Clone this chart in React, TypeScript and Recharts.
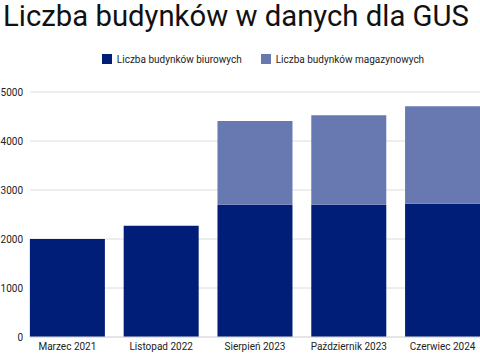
import { Bar, BarChart, CartesianGrid, Legend, XAxis, YAxis } from 'recharts'

const periods = ['Marzec 2021', 'Listopad 2022', 'Sierpień 2023', 'Październik 2023', 'Czerwiec 2024']
const offices = [2000, 2270, 2700, 2700, 2720]
const warehouses = [null, null, 1710, 1825, 1990]
const yTicks = [0, 1000, 2000, 3000, 4000, 5000]

const DARK = '#001e77'
const LIGHT = '#6878b0'
const FONT = 'Roboto, "Noto Sans", sans-serif'
const LEGEND_H = 16

const data = periods.map((name, i) => ({ name, offices: offices[i], warehouses: warehouses[i] }))

// własna legenda — odstępy jak w oryginale (kwadrat 10px, ~19px między pozycjami)
function LegendRow({ payload }: { payload?: { value: string; color: string }[] }) {
  return (
    <div style={{ display: 'flex', justifyContent: 'center', height: LEGEND_H, alignItems: 'center', gap: 19, paddingLeft: 46 }}>
      {(payload ?? []).map((p) => (
        <div key={p.value} style={{ display: 'flex', alignItems: 'center', gap: 5 }}>
          <span style={{ width: 10, height: 10, background: p.color, display: 'inline-block' }} />
          <span style={{ fontSize: 10, color: '#222', fontFamily: FONT }}>{p.value}</span>
        </div>
      ))}
    </div>
  )
}

export default function App() {
  return (
    <div style={{ position: 'absolute', left: 0, top: 0, width: 480, height: 354, background: '#fff', fontFamily: FONT }}>
      <div style={{ position: 'absolute', left: 3, top: 0, fontSize: 29.3, lineHeight: '32px', color: '#111', whiteSpace: 'nowrap' }}>
        Liczba budynków w danych dla GUS
      </div>
      <BarChart width={480} height={354} data={data} margin={{ top: 92 - LEGEND_H, right: 0, bottom: 0, left: 0 }} barCategoryGap="10%">
        <CartesianGrid vertical={false} stroke="#dcdcdc" />
        {/* ujemny padding — słupki dochodzą do krawędzi siatki jak w oryginale */}
        <XAxis
          dataKey="name"
          height={17}
          padding={{ left: -9.5, right: -9.5 }}
          tickLine={false}
          axisLine={{ stroke: '#dcdcdc' }}
          tick={{ fontSize: 10, fill: '#222', fontFamily: FONT }}
          tickMargin={0}
          interval={0}
        />
        <YAxis
          width={30}
          domain={[0, 5000]}
          ticks={yTicks}
          tickLine={false}
          tickSize={0}
          tickMargin={7}
          axisLine={false}
          tick={{ fontSize: 10, fill: '#222', fontFamily: FONT }}
        />
        <Legend
          verticalAlign="top"
          align="center"
          wrapperStyle={{ top: 51, left: 0, width: 480 }}
          content={(props: any) => <LegendRow payload={props.payload} />}
        />
        <Bar dataKey="offices" name="Liczba budynków biurowych" stackId="a" fill={DARK} isAnimationActive={false} />
        <Bar dataKey="warehouses" name="Liczba budynków magazynowych" stackId="a" fill={LIGHT} isAnimationActive={false} />
      </BarChart>
    </div>
  )
}
